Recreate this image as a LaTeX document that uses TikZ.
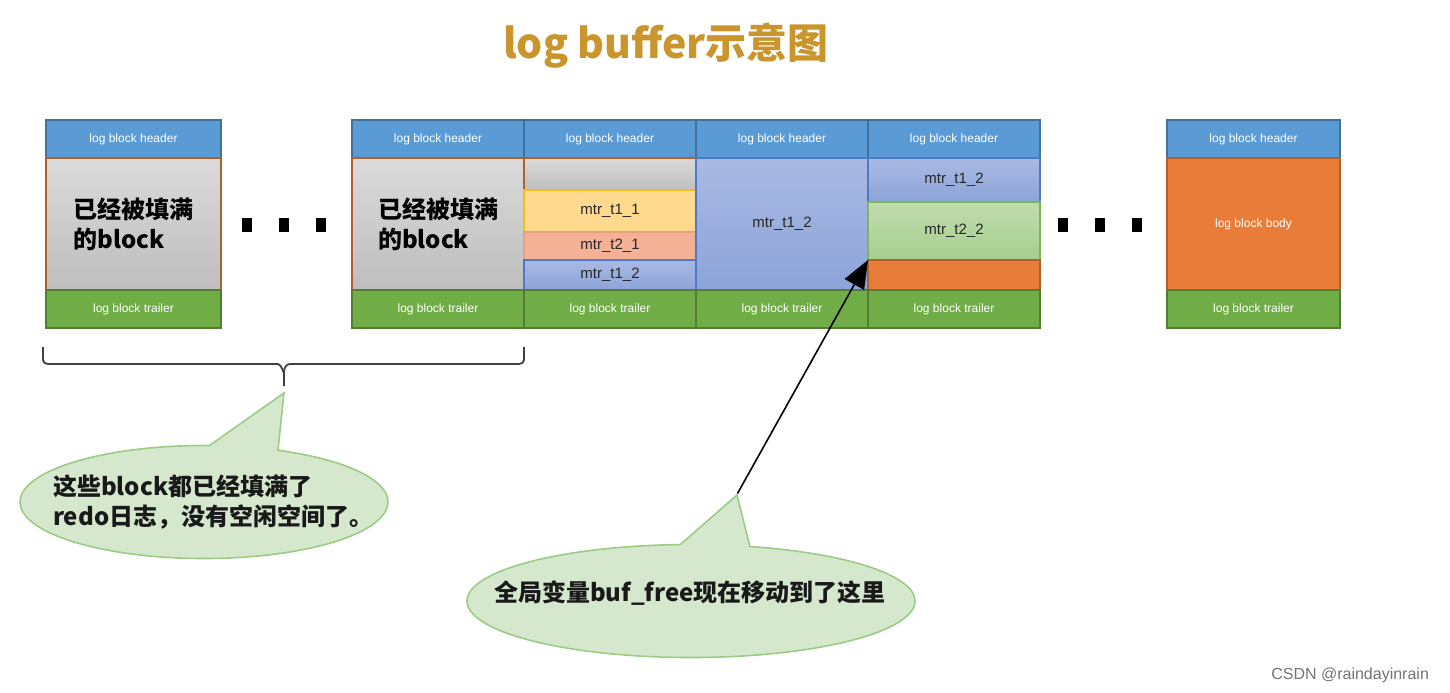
\documentclass[tikz,border=0pt]{standalone}
\usepackage{fontspec}
\setmainfont{Liberation Sans}
\newfontfamily\cjk{Noto Sans CJK SC}
\usetikzlibrary{shapes.callouts,arrows.meta}
\definecolor{hdrfill}{HTML}{5B9BD5}
\definecolor{hdrdraw}{HTML}{41719C}
\definecolor{trlfill}{HTML}{70AD47}
\definecolor{trldraw}{HTML}{507E32}
\definecolor{brn}{HTML}{B0612A}
\definecolor{grayT}{HTML}{DADADA}
\definecolor{grayB}{HTML}{BEBEBE}
\definecolor{ylw}{HTML}{FFD98E}
\definecolor{ylwdraw}{HTML}{F5BC1C}
\definecolor{slm}{HTML}{F4B196}
\definecolor{bluT}{HTML}{A9B9E3}
\definecolor{bluB}{HTML}{8DA4D9}
\definecolor{bludraw}{HTML}{4E78C8}
\definecolor{grnT}{HTML}{C0DDAE}
\definecolor{grnB}{HTML}{A6CE8D}
\definecolor{grndraw}{HTML}{7DB65A}
\definecolor{org}{HTML}{EA7C3A}
\definecolor{calfill}{HTML}{D5E8CD}
\definecolor{caldraw}{HTML}{9DCB85}
\definecolor{ttl}{HTML}{C9952C}
\newcommand\cellbox[7]{\node[#6, minimum width={(#4-#2)*0.5pt}, minimum height={(#5-#3)*0.5pt}] (#1) at (#2,#3) {#7};}
\begin{document}
\begin{tikzpicture}[x=0.5pt,y=-0.5pt,
  cellb/.style={anchor=north west, inner sep=0pt, outer sep=0pt, line width=1pt},
  hdr/.style={cellb, fill=hdrfill, draw=hdrdraw, text=white, font=\fontsize{6}{7}\selectfont},
  trl/.style={cellb, fill=trlfill, draw=trldraw, text=white, font=\fontsize{6}{7}\selectfont},
  full/.style={cellb, top color=grayT, bottom color=grayB, draw=brn, align=left,
    font=\cjk\bfseries\fontsize{12}{15}\selectfont},
  gband/.style={cellb, top color=grayT, bottom color=grayB, draw=brn},
  mtr/.style={cellb, font=\fontsize{7.5}{9}\selectfont, text=black!85},
  yel/.style={mtr, fill=ylw, draw=ylwdraw},
  sal/.style={mtr, fill=slm, draw=slm!80!brn},
  blu/.style={mtr, top color=bluT, bottom color=bluB, draw=bludraw},
  grn/.style={mtr, top color=grnT, bottom color=grnB, draw=grndraw},
  orb/.style={cellb, fill=org, draw=brn, text=white, font=\fontsize{6}{7}\selectfont},
  dot/.style={fill=black},
  bubble/.style={ellipse callout, fill=calfill, draw=caldraw, line width=0.8pt, inner sep=0pt},
  bubtext/.style={font=\cjk\bfseries\fontsize{12}{15}\selectfont, align=left, text=black!90},
]
\useasboundingbox (0,0) rectangle (1450,692);
% title
\node[text=ttl, font=\cjk\bfseries\fontsize{20.5}{24}\selectfont] (title) at (666,46) {log buffer示意图};
% block 1
\cellbox{h1}{46}{120}{221}{158}{hdr}{log block header}
\cellbox{b1}{46}{158}{221}{290}{full}{已经被填满\\的block}
\cellbox{t1}{46}{290}{221}{328}{trl}{log block trailer}
% dots
\foreach \x in {247,284,321,1063,1100,1137}{\fill[dot] (\x-5,218) rectangle (\x+5,232);}
% group
\cellbox{h2}{352}{120}{524}{158}{hdr}{log block header}
\cellbox{h3}{524}{120}{696}{158}{hdr}{log block header}
\cellbox{h4}{696}{120}{868}{158}{hdr}{log block header}
\cellbox{h5}{868}{120}{1040}{158}{hdr}{log block header}
\cellbox{b2}{352}{158}{524}{290}{full}{已经被填满\\的block}
\cellbox{g3}{524}{158}{696}{190}{gband}{}
\cellbox{y3}{524}{190}{696}{232}{yel}{mtr\_t1\_1}
\cellbox{s3}{524}{232}{696}{260}{sal}{mtr\_t2\_1}
\cellbox{u3}{524}{260}{696}{290}{blu}{mtr\_t1\_2}
\cellbox{u4}{696}{158}{868}{290}{blu}{mtr\_t1\_2}
\cellbox{u5}{868}{158}{1040}{202}{blu}{mtr\_t1\_2}
\cellbox{n5}{868}{202}{1040}{260}{grn}{mtr\_t2\_2}
\cellbox{o5}{868}{260}{1040}{290}{orb}{}
\foreach \i/\x/\w in {2/352/524,3/524/696,4/696/868,5/868/1040}{
  \cellbox{t\i}{\x}{290}{\w}{328}{trl}{log block trailer}}
% last block
\cellbox{h6}{1167}{120}{1340}{158}{hdr}{log block header}
\cellbox{b6}{1167}{158}{1340}{290}{orb}{log block body}
\cellbox{t6}{1167}{290}{1340}{328}{trl}{log block trailer}
% brace
\draw[line width=0.9pt, black!75]
  (43,347) -- (43,360) to[out=-90,in=180] (48,364) -- (278,364) to[out=0,in=-90] (284,372)
  -- (284,386);
\draw[line width=0.9pt, black!75]
  (284,372) to[out=90,in=180] (290,364) -- (519,364) to[out=0,in=-90] (524,360) -- (524,347);
% callouts
\node[bubble, minimum width=184pt, minimum height=56.5pt, callout absolute pointer={(284,393)},
  callout pointer arc=22] (c1) at (204,502) {};
\node[bubtext, anchor=north west] (c1t) at (46,468) {这些block都已经填满了\\redo日志，没有空闲空间了。};
\node[bubble, minimum width=224pt, minimum height=56.5pt, callout absolute pointer={(737,495)},
  callout pointer arc=18] (c2) at (691,601) {};
\node[bubtext] (c2t) at (690,593) {全局变量buf\_free现在移动到了这里};
% arrow
\draw[line width=0.8pt, -{Triangle[length=14pt,width=11pt]}] (c2.pointer) -- (o5.north west);
% watermark
\node[text=black!55, font=\fontsize{8}{9}\selectfont, anchor=east] (wm) at (1436,675) {CSDN @raindayinrain};
\end{tikzpicture}
\end{document}
